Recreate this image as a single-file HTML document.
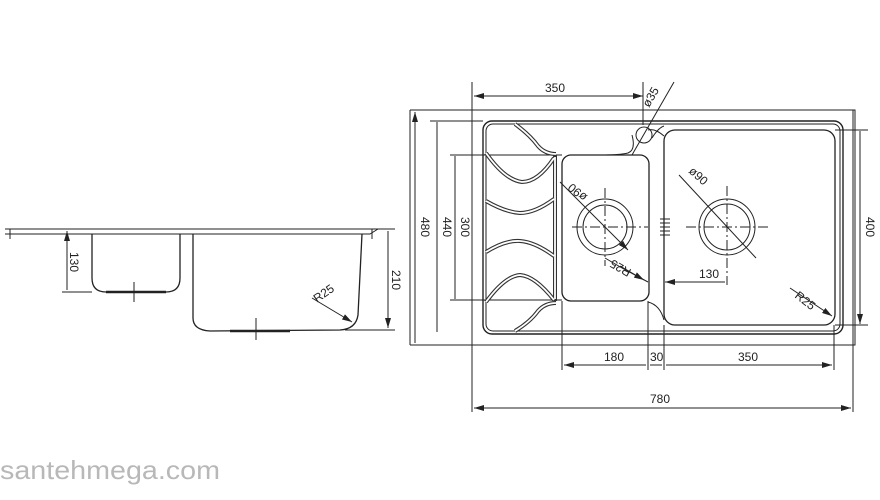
<!DOCTYPE html>
<html><head><meta charset="utf-8"><style>
html,body{margin:0;padding:0;background:#fff;width:880px;height:500px;overflow:hidden}
svg{display:block}
text{font-family:"Liberation Sans",sans-serif;font-size:12px;fill:#222}
</style></head><body>
<svg width="880" height="500" viewBox="0 0 880 500" xmlns="http://www.w3.org/2000/svg">
<defs>
<marker id="a" viewBox="0 0 10 6" refX="10" refY="3" markerWidth="10" markerHeight="6" orient="auto-start-reverse" markerUnits="userSpaceOnUse"><path d="M0,0L10,3L0,6z" fill="#222"/></marker>
</defs>
<g fill="none" stroke="#222" stroke-width="1">
<path d="M5,229H378M5,234H370L378,229" />
<path d="M10,229v10M372,229v10"/>
<path d="M92,234V278Q92,292 106,292H166Q180,292 180,278V234" stroke-width="1.3"/>
<path d="M193,234V318Q193,330 210,331L340,330Q356,329 358,315L362,234" stroke-width="1.3"/>
<path d="M106,292H166M230,331H290" stroke-width="2.5"/>
<path d="M134,282v20M256,318v22"/>
<path d="M62,229H92M62,292H92M362,229H395M345,330H395"/>
<path d="M67,231V290M388,231V328" marker-start="url(#a)" marker-end="url(#a)"/>
<path d="M312,298L352,322" marker-end="url(#a)"/>
<path d="M410,110H855V345H410M410,110V345"/>
<path d="M472,82V412M853,110V412"/>
<path d="M415,112V343M437,122V332M455,156V299M860,131V324" marker-start="url(#a)" marker-end="url(#a)"/>
<path d="M430,121H483M450,155H562M450,300H562M835,130H868M835,325H868"/>
<path d="M474,96H643" marker-start="url(#a)" marker-end="url(#a)"/>
<path d="M643,82V125"/>
<rect x="483" y="121" width="360" height="213" rx="9" stroke-width="1.4"/>
<rect x="486" y="124" width="354" height="207" rx="7"/>
<rect x="664" y="130" width="171" height="195" rx="11" stroke-width="1.3"/>
<path d="M664,320Q660,305 648,302M664,136Q655,128 648,130" />
<rect x="562" y="155" width="87" height="146" rx="9" stroke-width="1.3"/>
<circle cx="644" cy="135" r="8"/>
<path d="M632,135Q636,150 628,153Q620,155 600,155M652,138Q658,128 664,126"/>
<path d="M674,82L632,155"/>
<g stroke-width="4" stroke="#333">
<path d="M515,124Q530,135 538,146Q545,154 556,154"/>
<path d="M486,153Q505,180 522,182Q538,182 554,158"/>
<path d="M486,201Q505,212 520,213Q535,213 554,199"/>
<path d="M486,252Q505,240 520,241Q535,242 554,256"/>
<path d="M486,302Q505,276 520,275Q535,276 554,300"/>
<path d="M515,331Q530,322 538,311Q545,303 556,303"/>
<path d="M555,155V301"/>
</g>
<g stroke-width="1.8" stroke="#fff">
<path d="M515,124Q530,135 538,146Q545,154 556,154"/>
<path d="M486,153Q505,180 522,182Q538,182 554,158"/>
<path d="M486,201Q505,212 520,213Q535,213 554,199"/>
<path d="M486,252Q505,240 520,241Q535,242 554,256"/>
<path d="M486,302Q505,276 520,275Q535,276 554,300"/>
<path d="M515,331Q530,322 538,311Q545,303 556,303"/>
<path d="M555,157V299"/>
</g>
<circle cx="605" cy="227" r="28"/><circle cx="605" cy="227" r="22"/>
<path d="M572,227H648M605,188V266" stroke-dasharray="10,3,2,3"/>
<path d="M560,182L628,250" marker-end="url(#a)"/>
<path d="M605,258L622,268L648,282" />
<path d="M620,266L644,280" marker-end="url(#a)"/>
<circle cx="727" cy="227" r="28"/><circle cx="727" cy="227" r="23"/>
<path d="M686,227H770M727,186V285" stroke-dasharray="10,3,2,3"/>
<path d="M679,175L756,258"/>
<path d="M665,282H725" marker-start="url(#a)"/>
<path d="M790,288L832,316" marker-end="url(#a)"/>
<path d="M660,219h10M660,223h10M660,227h10M660,231h10M660,235h10"/>
<path d="M562,301V370M648,301V370M664,325V370M834,325V370"/>
<path d="M564,365H646M650,365H662M666,365H832" marker-start="url(#a)" marker-end="url(#a)"/>
<path d="M474,408H851" marker-start="url(#a)" marker-end="url(#a)"/>
</g>
<text x="545" y="92">350</text>
<text x="604" y="361">180</text>
<text x="650" y="361">30</text>
<text x="738" y="361">350</text>
<text x="650" y="403">780</text>
<text x="699" y="278">130</text>
<text transform="translate(649,108) rotate(-60)">ø35</text>
<text transform="translate(588,196) rotate(220)">ø90</text>
<text transform="translate(688,172) rotate(42)">ø90</text>
<text transform="translate(632,270) rotate(-150)">R25</text>
<text transform="translate(794,297) rotate(38)">R25</text>
<text transform="translate(317,303) rotate(-35)">R25</text>
<text transform="translate(421,227) rotate(90)" text-anchor="middle">480</text>
<text transform="translate(443,227) rotate(90)" text-anchor="middle">440</text>
<text transform="translate(461,227) rotate(90)" text-anchor="middle">300</text>
<text transform="translate(866,227) rotate(90)" text-anchor="middle">400</text>
<text transform="translate(70,262) rotate(90)" text-anchor="middle">130</text>
<text transform="translate(392,280) rotate(90)" text-anchor="middle">210</text>
<text x="0" y="479" style="font-size:26px;fill:#b8b8b8" textLength="220" lengthAdjust="spacingAndGlyphs">santehmega.com</text>
</svg>
</body></html>
